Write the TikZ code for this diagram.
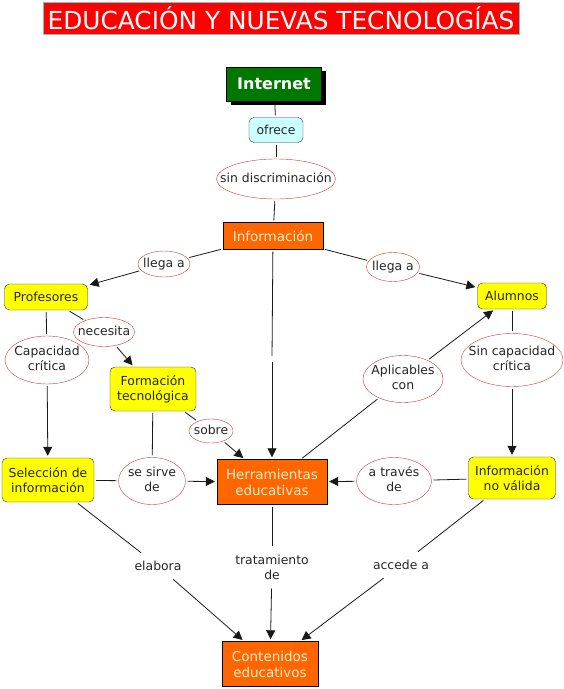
\documentclass[tikz,border=0pt]{standalone}
\usepackage{fontspec}
\setmainfont{DejaVu Sans}
\usetikzlibrary{arrows.meta,shapes.geometric,shadows}

\definecolor{titlered}{RGB}{255,0,0}
\definecolor{titlecyan}{RGB}{110,200,200}
\definecolor{webgreen}{RGB}{0,119,0}
\definecolor{palecyan}{RGB}{204,255,255}
\definecolor{conorange}{RGB}{255,102,0}
\definecolor{orangetext}{RGB}{255,236,204}
\definecolor{conyellow}{RGB}{255,255,0}
\definecolor{linkred}{RGB}{208,56,56}

% text of a fixed size ellipse, not widening it
\newcommand{\lk}[1]{\makebox[0pt]{\begin{tabular}{@{}c@{}}#1\end{tabular}}}

\tikzset{
  mapfont/.style={font=\fontsize{12.4}{15}\selectfont},
  yellowbox/.style={mapfont, draw=black!80, fill=conyellow, rounded corners=5pt,
    align=center, inner sep=0pt, text=black!85},
  orangebox/.style={font=\fontsize{13.5}{16}\selectfont, draw=black, fill=conorange,
    align=center, inner sep=0pt, text=orangetext},
  link/.style={mapfont, ellipse, draw=linkred, fill=white, inner sep=0pt, text=black!85},
  plainlink/.style={mapfont, inner xsep=4pt, inner ysep=7pt, text=black!85, align=center},
  conn/.style={draw=black!90, line width=0.8pt, shorten <=2pt, shorten >=2pt},
  arr/.style={conn, -{Triangle[width=9pt,length=9pt]}},
}

\begin{document}
\begin{tikzpicture}[x=1pt,y=-1pt]
  \useasboundingbox (0,0) rectangle (564,689);

  % title
  \node[draw=titlecyan, fill=titlered, text=white, font=\fontsize{24.8}{28}\selectfont,
        minimum width=476pt, minimum height=32pt, inner sep=0pt] (title) at (281,18)
        {EDUCACIÓN Y NUEVAS TECNOLOGÍAS};

  % concepts
  \node[draw=black, fill=webgreen, text=white, font=\bfseries\fontsize{16}{19}\selectfont,
        minimum width=95pt, minimum height=34pt, inner sep=0pt,
        drop shadow={shadow xshift=4pt, shadow yshift=-4pt, fill=black, opacity=1}]
        (internet) at (274,84) {Internet};
  \node[mapfont, draw=black!80, fill=palecyan, rounded corners=5pt, text=black!85,
        minimum width=54pt, minimum height=25pt, inner sep=0pt] (ofrece) at (276,130) {ofrece};
  \node[orangebox, minimum width=100pt, minimum height=27pt] (info) at (273,236) {Información};
  \node[yellowbox, minimum width=83pt, minimum height=26pt] (prof) at (46,297) {Profesores};
  \node[yellowbox, minimum width=69pt, minimum height=26pt] (alum) at (512,296) {Alumnos};
  \node[yellowbox, minimum width=86pt, minimum height=44pt] (formacion) at (153,389)
        {Formación\\tecnológica};
  \node[yellowbox, minimum width=92pt, minimum height=44pt] (selec) at (48,480)
        {Selección de\\información};
  \node[yellowbox, minimum width=87pt, minimum height=42pt] (novalida) at (512,478)
        {Información\\no válida};
  \node[orangebox, minimum width=110pt, minimum height=45pt] (herr) at (272,482)
        {Herramientas\\educativas};
  \node[orangebox, minimum width=96pt, minimum height=45pt] (conten) at (270,664)
        {Contenidos\\educativos};

  % linking phrases
  \node[link, minimum width=119pt, minimum height=40pt] (sindisc) at (276,179) {\lk{sin discriminación}};
  \node[link, minimum width=52pt, minimum height=26pt] (llegaP) at (164,264) {\lk{llega a}};
  \node[link, minimum width=53pt, minimum height=29pt] (llegaA) at (393,267) {\lk{llega a}};
  \node[link, minimum width=61pt, minimum height=29pt] (necesita) at (104,332) {\lk{necesita}};
  \node[link, minimum width=84pt, minimum height=48pt] (capac) at (47,360) {\lk{Capacidad\\crítica}};
  \node[link, minimum width=102pt, minimum height=53pt] (sincapac) at (512,360) {\lk{Sin capacidad\\crítica}};
  \node[link, minimum width=80pt, minimum height=47pt] (aplic) at (403,379) {\lk{Aplicables\\con}};
  \node[link, minimum width=44pt, minimum height=24pt] (sobre) at (211,431) {\lk{sobre}};
  \node[link, minimum width=67pt, minimum height=47pt] (sesirve) at (152,481) {\lk{se sirve\\de}};
  \node[link, minimum width=75pt, minimum height=47pt] (atraves) at (394,481) {\lk{a través\\de}};
  \node[inner sep=0pt, minimum size=6pt] (blank) at (272,359) {};
  \node[plainlink] (elabora) at (158,566) {elabora};
  \node[plainlink] (tratam) at (272,567) {tratamiento\\de};
  \node[plainlink] (accede) at (401,565) {accede a};

  % connectors
  \draw[conn] (internet) -- (ofrece);
  \draw[conn] (ofrece) -- (sindisc);
  \draw[conn] (sindisc) -- (info);
  \draw[conn] (info) -- (llegaP);
  \draw[arr] (llegaP) -- (prof);
  \draw[conn] (info) -- (llegaA);
  \draw[arr] (llegaA) -- (alum);
  \draw[conn, shorten >=0pt] (info) -- (blank);
  \draw[arr, shorten <=0pt] (blank) -- (herr);
  \draw[conn] (prof) -- (necesita);
  \draw[arr] (necesita) -- (formacion);
  \draw[conn] (prof) -- (capac);
  \draw[arr] (capac) -- (selec);
  \draw[conn] (formacion) -- (sobre);
  \draw[arr] (sobre) -- (herr);
  \draw[conn] (formacion) -- (sesirve);
  \draw[conn] (selec) -- (sesirve);
  \draw[arr] (sesirve) -- (herr);
  \draw[conn] (herr) -- (aplic);
  \draw[arr] (aplic) -- (alum);
  \draw[conn] (alum) -- (sincapac);
  \draw[arr] (sincapac) -- (novalida);
  \draw[conn] (novalida) -- (atraves);
  \draw[arr] (atraves) -- (herr);
  \draw[conn] (selec) -- (elabora);
  \draw[arr] (elabora) -- (conten);
  \draw[conn] (herr) -- (tratam);
  \draw[arr] (tratam) -- (conten);
  \draw[conn] (novalida) -- (accede);
  \draw[arr] (accede) -- (conten);
\end{tikzpicture}
\end{document}
